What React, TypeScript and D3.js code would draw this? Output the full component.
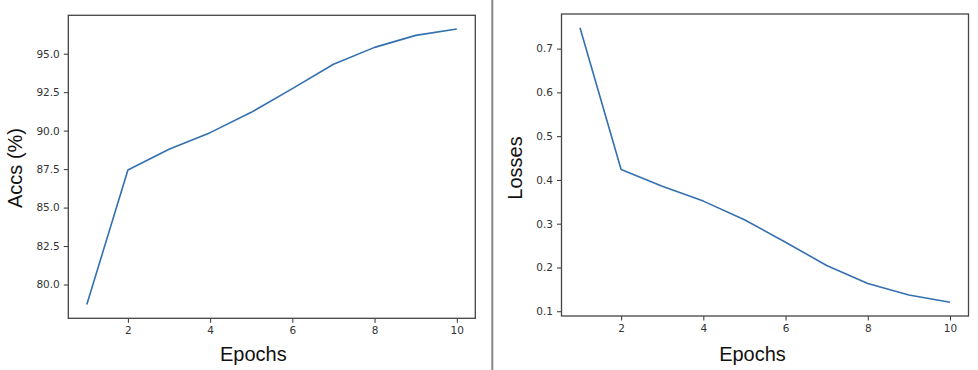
import { useEffect, useRef } from "react";
import * as d3 from "d3";

const epochs = [1, 2, 3, 4, 5, 6, 7, 8, 9, 10];
const accs = [78.7, 87.44, 88.79, 89.87, 91.19, 92.73, 94.31, 95.41, 96.19, 96.6];
const losses = [0.7477, 0.4236, 0.3857, 0.3516, 0.309, 0.2577, 0.2045, 0.1636, 0.1373, 0.1205];
const xTicks = [2, 4, 6, 8, 10];
const accTicks = [80, 82.5, 85, 87.5, 90, 92.5, 95];
const lossTicks = [0.1, 0.2, 0.3, 0.4, 0.5, 0.6, 0.7];

const W = 978;
const H = 370;

// matplotlib-like 5% padding
function padded(vals: number[]) {
  const [lo, hi] = d3.extent(vals) as [number, number];
  const m = (hi - lo) * 0.05;
  return [lo - m, hi + m];
}

function drawPanel(svg: any, opts: any) {
  const { box, ys, yTicks, yFmt, yLabel, yLabelX, xLabelX } = opts;
  const x = d3.scaleLinear().domain(padded(epochs)).range([box.left, box.right]);
  const y = d3.scaleLinear().domain(padded(ys)).range([box.bottom, box.top]);

  const g = svg.append("g");

  const styleAxis = (a: any) => {
    a.select(".domain").remove();
    a.selectAll(".tick line").attr("stroke", "#333").attr("stroke-width", 1);
    a.selectAll(".tick text")
      .attr("fill", "#333")
      .attr("font-family", "DejaVu Sans")
      .attr("font-size", 10.5);
  };

  g.append("g")
    .attr("transform", `translate(0,${box.bottom})`)
    .call(d3.axisBottom(x).tickValues(xTicks).tickSize(4.5).tickPadding(4).tickFormat(d3.format("d")))
    .call(styleAxis);

  g.append("g")
    .attr("transform", `translate(${box.left},0)`)
    .call(d3.axisLeft(y).tickValues(yTicks).tickSize(4.5).tickPadding(4).tickFormat(d3.format(yFmt)))
    .call(styleAxis);

  const line = d3.line<number>()
    .x((_, i) => x(epochs[i]))
    .y(d => y(d));

  g.append("path")
    .datum(ys)
    .attr("d", line)
    .attr("fill", "none")
    .attr("stroke", "#3370b0")
    .attr("stroke-width", 1.6)
    .attr("stroke-linejoin", "round");

  g.append("rect")
    .attr("x", box.left)
    .attr("y", box.top)
    .attr("width", box.right - box.left)
    .attr("height", box.bottom - box.top)
    .attr("fill", "none")
    .attr("stroke", "#444")
    .attr("stroke-width", 1.3);

  g.append("text")
    .attr("x", xLabelX)
    .attr("y", 360.5)
    .attr("text-anchor", "middle")
    .attr("font-family", "Liberation Sans, Arial, sans-serif")
    .attr("font-size", 20)
    .attr("fill", "#111")
    .text("Epochs");

  g.append("text")
    .attr("transform", `translate(${yLabelX},168) rotate(-90)`)
    .attr("text-anchor", "middle")
    .attr("font-family", "Liberation Sans, Arial, sans-serif")
    .attr("font-size", 20)
    .attr("fill", "#111")
    .text(yLabel);
}

export default function App() {
  const svgRef = useRef<SVGSVGElement>(null);

  useEffect(() => {
    const svg = d3.select(svgRef.current);
    svg.selectAll("*").remove();

    svg.append("rect").attr("width", W).attr("height", H).attr("fill", "#fff");

    drawPanel(svg, {
      box: { left: 68.3, right: 475.3, top: 15.3, bottom: 318.3 },
      ys: accs,
      yTicks: accTicks,
      yFmt: ".1f",
      yLabel: "Accs (%)",
      yLabelX: 22,
      xLabelX: 253.3,
    });

    drawPanel(svg, {
      box: { left: 561.5, right: 968.5, top: 14, bottom: 316 },
      ys: losses,
      yTicks: lossTicks,
      yFmt: ".1f",
      yLabel: "Losses",
      yLabelX: 522,
      xLabelX: 752.5,
    });

    // divider between the two figures
    svg.append("line")
      .attr("x1", 492.3).attr("x2", 492.3)
      .attr("y1", 0).attr("y2", H)
      .attr("stroke", "#888")
      .attr("stroke-width", 2);
  }, []);

  return (
    <svg
      ref={svgRef}
      width={W}
      height={H}
      viewBox={`0 0 ${W} ${H}`}
      style={{ position: "absolute", left: 0, top: 0 }}
    />
  );
}
